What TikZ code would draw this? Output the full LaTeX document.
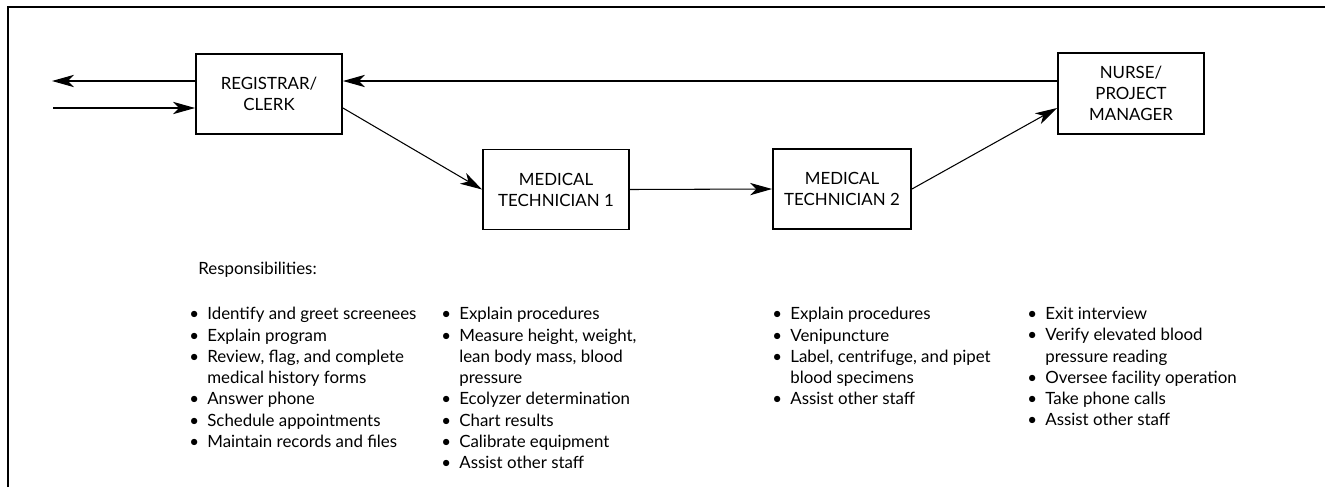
\documentclass[tikz,border=0pt]{standalone}
\usepackage{fontspec}
\setmainfont{Lato}
\usetikzlibrary{arrows.meta}

\newcommand{\itm}{\makebox[0.36cm][l]{\textbullet}}
\newcommand{\cnt}{\hspace*{0.36cm}}

\tikzset{
    post/.style={draw, line width=1.1pt, minimum width=2.92cm, minimum height=1.6cm,
        align=center, inner sep=2pt, font=\fontsize{9.6}{12}\selectfont},
    flow/.style={line width=0.6pt, -{Stealth[length=12.5pt, width=7pt, inset=3.5pt]}},
    duties/.style={anchor=north west, inner sep=0pt, align=left,
        font=\fontsize{9.6}{12.1}\selectfont}
}

\begin{document}
\begin{tikzpicture}[x=0.02cm, y=-0.02cm]
    \useasboundingbox (0,0) rectangle (1325,487);
    % Frame (only top and left edges show)
    \draw[line width=0.8pt] (8,487) -- (8,7) -- (1325,7);

    % Staff stations
    \node[post] (reg) at (269,94) {REGISTRAR/\\CLERK};
    \node[post] (tech1) at (556,189.5) {MEDICAL\\TECHNICIAN 1};
    \node[post, minimum width=2.76cm] (tech2) at (842,189) {MEDICAL\\TECHNICIAN 2};
    \node[post, minimum height=1.62cm] (nurse) at (1131,93.5) {NURSE/\\PROJECT\\MANAGER};

    % Free ends on the left
    \coordinate (out) at (52,81);
    \coordinate (in) at (53,108);

    % Patient flow
    \draw[flow] (reg.west |- out) -- (out);
    \draw[flow] (in) -- (reg.west |- in);
    \draw[flow] (reg.east |- in) -- (tech1.west);
    \draw[flow] (tech1.east) -- (tech2.west);
    \draw[flow] (tech2.east) -- (nurse.west |- in);
    \draw[flow] (nurse.west |- out) -- (reg.east |- out);

    % Responsibilities
    \node[duties, anchor=west] (resp) at (198,270) {Responsibilities:};
    \node[duties] (duty1) at (189,307) {%
        \itm Identify and greet screenees\\
        \itm Explain program\\
        \itm Review, flag, and complete\\
        \cnt medical history forms\\
        \itm Answer phone\\
        \itm Schedule appointments\\
        \itm Maintain records and files};
    \node[duties] (duty2) at (441,307) {%
        \itm Explain procedures\\
        \itm Measure height, weight,\\
        \cnt lean body mass, blood\\
        \cnt pressure\\
        \itm Ecolyzer determination\\
        \itm Chart results\\
        \itm Calibrate equipment\\
        \itm Assist other staff};
    \node[duties] (duty3) at (772,307) {%
        \itm Explain procedures\\
        \itm Venipuncture\\
        \itm Label, centrifuge, and pipet\\
        \cnt blood specimens\\
        \itm Assist other staff};
    \node[duties] (duty4) at (1027,307) {%
        \itm Exit interview\\
        \itm Verify elevated blood\\
        \cnt pressure reading\\
        \itm Oversee facility operation\\
        \itm Take phone calls\\
        \itm Assist other staff};
\end{tikzpicture}
\end{document}
